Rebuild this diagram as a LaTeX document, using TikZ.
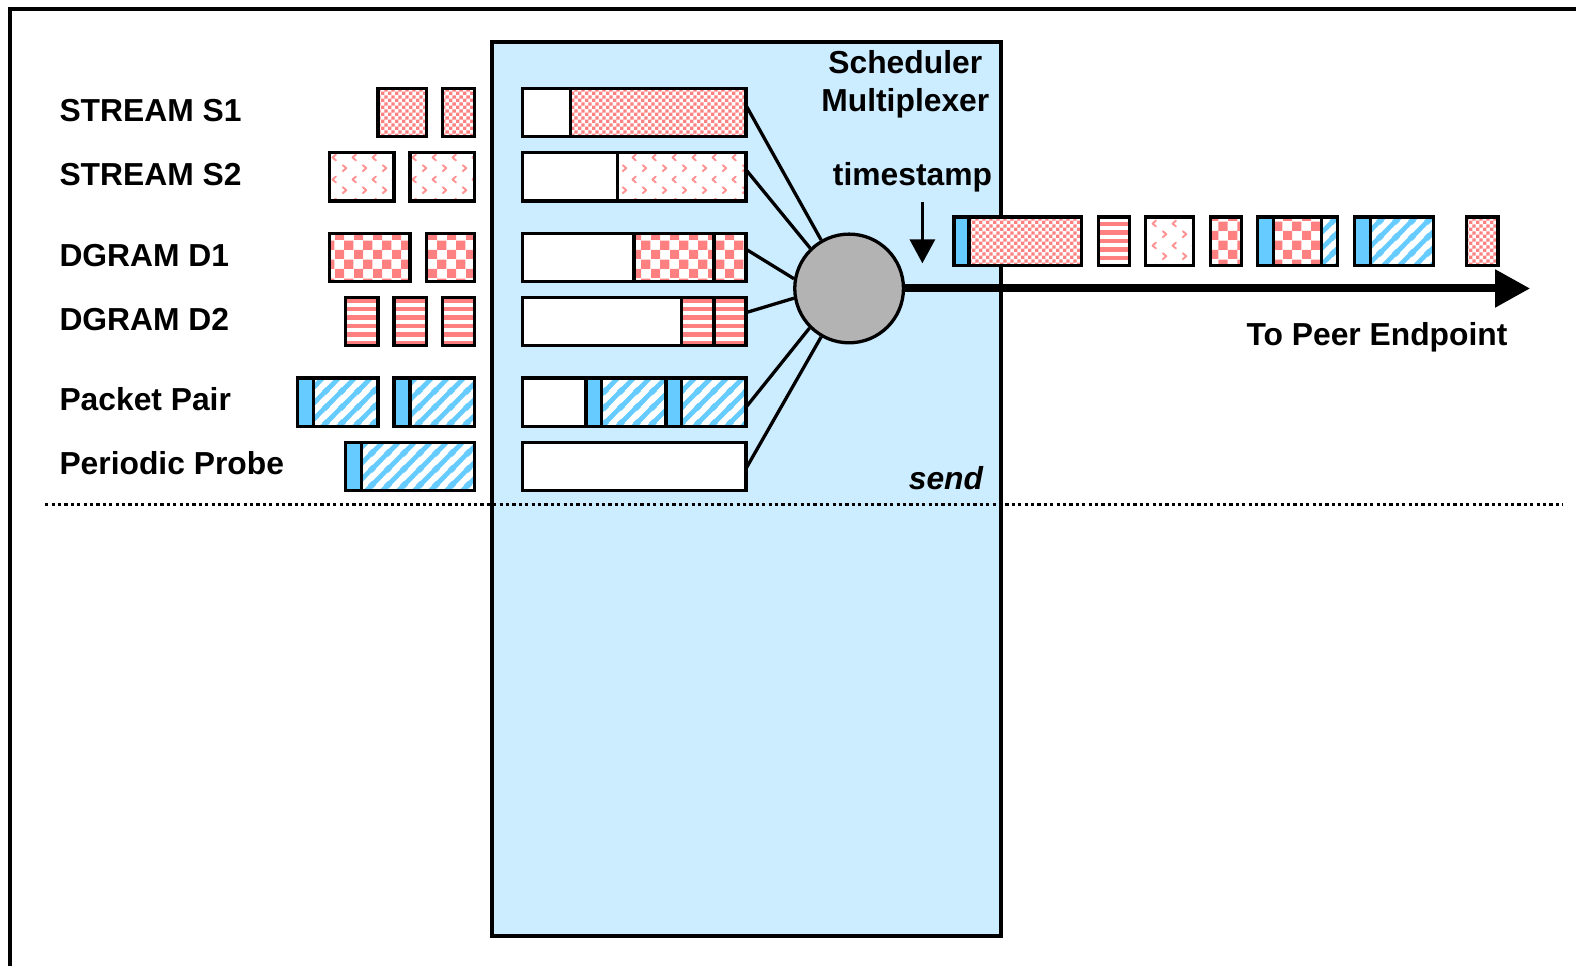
\documentclass[tikz,border=0pt]{standalone}
\usepackage{fontspec}
\setmainfont{Liberation Sans}
\usetikzlibrary{patterns,arrows.meta}

\definecolor{boxblue}{HTML}{CCECFF}
\definecolor{headblue}{HTML}{66CCFF}
\definecolor{pinkc}{HTML}{FF8080}
\definecolor{muxgray}{HTML}{B3B3B3}

% small checkerboard (stream S1)
\pgfdeclarepatternformonly{finecheck}{\pgfpointorigin}{\pgfpoint{6.8pt}{6.8pt}}{\pgfpoint{6.8pt}{6.8pt}}{%
  \pgfpathrectangle{\pgfpointorigin}{\pgfpoint{3.4pt}{3.4pt}}%
  \pgfpathrectangle{\pgfpoint{3.4pt}{3.4pt}}{\pgfpoint{3.4pt}{3.4pt}}%
  \pgfusepath{fill}}
% large checkerboard (datagram D1)
\pgfdeclarepatternformonly{bigcheck}{\pgfpointorigin}{\pgfpoint{18.6pt}{18.6pt}}{\pgfpoint{18.6pt}{18.6pt}}{%
  \pgfpathrectangle{\pgfpointorigin}{\pgfpoint{9.3pt}{9.3pt}}%
  \pgfpathrectangle{\pgfpoint{9.3pt}{9.3pt}}{\pgfpoint{9.3pt}{9.3pt}}%
  \pgfusepath{fill}}
% little chevrons (stream S2)
\pgfdeclarepatternformonly{chevrons}{\pgfpointorigin}{\pgfpoint{20pt}{22pt}}{\pgfpoint{20pt}{22pt}}{%
  \pgfsetlinewidth{2pt}%
  \pgfsetroundcap\pgfsetroundjoin
  \pgfpathmoveto{\pgfpoint{3pt}{3pt}}\pgfpathlineto{\pgfpoint{6.5pt}{6pt}}\pgfpathlineto{\pgfpoint{3pt}{9pt}}%
  \pgfpathmoveto{\pgfpoint{16.5pt}{14pt}}\pgfpathlineto{\pgfpoint{13pt}{17pt}}\pgfpathlineto{\pgfpoint{16.5pt}{20pt}}%
  \pgfusepath{stroke}}
% horizontal bands (datagram D2); the tile overlaps its neighbours to avoid seams
\pgfdeclarepatternformonly{hbands}{\pgfpoint{-1pt}{0pt}}{\pgfpoint{11pt}{8.5pt}}{\pgfpoint{10pt}{8.5pt}}{%
  \pgfpathrectangle{\pgfpoint{-1pt}{0pt}}{\pgfpoint{12pt}{4.4pt}}%
  \pgfusepath{fill}}
% diagonal hatching (probe payload)
\pgfdeclarepatternformonly{diaghatch}{\pgfpointorigin}{\pgfpoint{15.5pt}{15.5pt}}{\pgfpoint{15.5pt}{15.5pt}}{%
  \pgfsetlinewidth{4.8pt}%
  \pgfpathmoveto{\pgfpoint{-3pt}{-3pt}}\pgfpathlineto{\pgfpoint{18.5pt}{18.5pt}}%
  \pgfpathmoveto{\pgfpoint{-4pt}{11.5pt}}\pgfpathlineto{\pgfpoint{4pt}{19.5pt}}%
  \pgfpathmoveto{\pgfpoint{11.5pt}{-4pt}}\pgfpathlineto{\pgfpoint{19.5pt}{4pt}}%
  \pgfusepath{stroke}}

\tikzset{
  pkedge/.style={draw=black, line width=3.3pt},
  segwhite/.style={fill=white},
  seghead/.style={fill=headblue},
  segfine/.style={fill=white, postaction={pattern=finecheck, pattern color=pinkc}},
  segbig/.style={fill=white, postaction={pattern=bigcheck, pattern color=pinkc}},
  segchev/.style={fill=white, postaction={pattern=chevrons, pattern color=pinkc!85}},
  segband/.style={fill=white, postaction={pattern=hbands, pattern color=pinkc}},
  seghatch/.style={fill=white, postaction={pattern=diaghatch, pattern color=headblue}},
  wire/.style={line width=3.3pt},
  lbl/.style={anchor=base west, inner sep=0pt, font=\fontsize{31.8}{38}\selectfont\bfseries},
  muxnode/.style={circle, draw=black, line width=3.3pt, fill=muxgray, minimum size=108.7pt, inner sep=0pt},
  dotline/.style={line width=3pt, dash pattern=on 3.2pt off 3.2pt},
}

% one packet segment: filled body, then its black outline
\newcommand\pktseg[5]{\path[#1] (#2,#3) rectangle (#4,#5); \draw[pkedge] (#2,#3) rectangle (#4,#5);}

\begin{document}
\begin{tikzpicture}[x=1.005pt,y=-1.005pt]
\useasboundingbox (0,0) rectangle (1568,961);

% outer frame
\draw[line width=4pt] (9.95,990) -- (9.95,8.66) -- (1569.7,8.66) -- (1569.7,990);

% scheduler / multiplexer area
\draw[line width=4pt, fill=boxblue] (489,41.8) rectangle (995.5,931);

% send boundary
\draw[dotline] (45,502) -- (1555,502);

% ---- incoming packets per flow ----
\pktseg{segfine}{376}{88}{424}{136}
\pktseg{segfine}{440}{88}{472}{136}

\pktseg{segchev}{328}{152}{392}{200}
\pktseg{segchev}{408}{152}{472}{200}

\pktseg{segbig}{328}{232}{408}{280}
\pktseg{segbig}{424}{232}{472}{280}

\pktseg{segband}{344}{296}{376}{344}
\pktseg{segband}{392}{296}{424}{344}
\pktseg{segband}{440}{296}{472}{344}

\pktseg{seghead}{296}{376}{312}{424}
\pktseg{seghatch}{312}{376}{376}{424}
\pktseg{seghead}{392}{376}{408}{424}
\pktseg{seghatch}{408}{376}{472}{424}

\pktseg{seghead}{344}{440}{360}{488}
\pktseg{seghatch}{360}{440}{472}{488}

% ---- per-flow queues ----
\pktseg{segwhite}{519.5}{88}{567.3}{136}
\pktseg{segfine}{567.3}{88}{742.3}{136}

\pktseg{segwhite}{519.5}{152}{614.6}{200}
\pktseg{segchev}{614.6}{152}{742.3}{200}

\pktseg{segwhite}{519.5}{232}{630.8}{280}
\pktseg{segbig}{630.8}{232}{710.5}{280}
\pktseg{segbig}{710.5}{232}{742.3}{280}

\pktseg{segwhite}{519.5}{296}{678.3}{344}
\pktseg{segband}{678.3}{296}{710.5}{344}
\pktseg{segband}{710.5}{296}{742.3}{344}

\pktseg{segwhite}{519.5}{376}{583.1}{424}
\pktseg{seghead}{583.1}{376}{598.7}{424}
\pktseg{seghatch}{598.7}{376}{662.7}{424}
\pktseg{seghead}{662.7}{376}{678.3}{424}
\pktseg{seghatch}{678.3}{376}{742.3}{424}

\pktseg{segwhite}{519.5}{440}{742.3}{488}

% queue outputs
\coordinate (qS1) at (742.3,105);
\coordinate (qS2) at (742.3,169);
\coordinate (qD1) at (742.3,248);
\coordinate (qD2) at (742.3,311);
\coordinate (qPP) at (742.3,405);
\coordinate (qPR) at (742.3,466);

% multiplexer
\node[muxnode] (mux) at (844.8,287) {};
\draw[wire] (qS1) -- (mux.120);
\draw[wire] (qS2) -- (mux.134);
\draw[wire] (qD1) -- (mux.170);
\draw[wire] (qD2) -- (mux.190);
\draw[wire] (qPP) -- (mux.225);
\draw[wire] (qPR) -- (mux.240);

% outgoing link
\coordinate (peer) at (1522.4,287);
\draw[line width=8pt, -{Triangle[length=35pt,width=36pt]}] (mux.east) -- (peer);

% timestamp marker
\coordinate (tsTop) at (917.7,200.7);
\coordinate (tsTip) at (917.7,262);
\draw[line width=3.3pt, -{Triangle[length=24pt,width=25pt]}] (tsTop) -- (tsTip);

% ---- packets on the wire ----
\pktseg{seghead}{949.2}{216}{964.2}{264}
\pktseg{segfine}{964.2}{216}{1076.3}{264}
\pktseg{segband}{1093}{216}{1124}{264}
\pktseg{segchev}{1140}{216}{1187.5}{264}
\pktseg{segbig}{1204}{216}{1235.5}{264}
\pktseg{seghead}{1251.3}{216}{1267}{264}
\pktseg{segbig}{1267}{216}{1315}{264}
\pktseg{seghatch}{1315}{216}{1331}{264}
\pktseg{seghead}{1347.6}{216}{1363.6}{264}
\pktseg{seghatch}{1363.6}{216}{1426.3}{264}
\pktseg{segfine}{1459.3}{216}{1490.3}{264}

% ---- labels ----
\node[lbl] (lS1) at (59,121) {STREAM S1};
\node[lbl] (lS2) at (59,185) {STREAM S2};
\node[lbl] (lD1) at (59,265) {DGRAM D1};
\node[lbl] (lD2) at (59,329) {DGRAM D2};
\node[lbl] (lPP) at (59,408) {Packet Pair};
\node[lbl] (lPR) at (59,472) {Periodic Probe};

\node[lbl] (lSch) at (824,73) {Scheduler};
\node[lbl] (lMux) at (817,111) {Multiplexer};
\node[lbl] (lTs) at (828.5,185) {timestamp};
\node[lbl] (lPeer) at (1240,344) {To Peer Endpoint};
\node[lbl, font=\fontsize{31.8}{38}\selectfont\bfseries\itshape] (lSend) at (904,487) {send};
\end{tikzpicture}
\end{document}
